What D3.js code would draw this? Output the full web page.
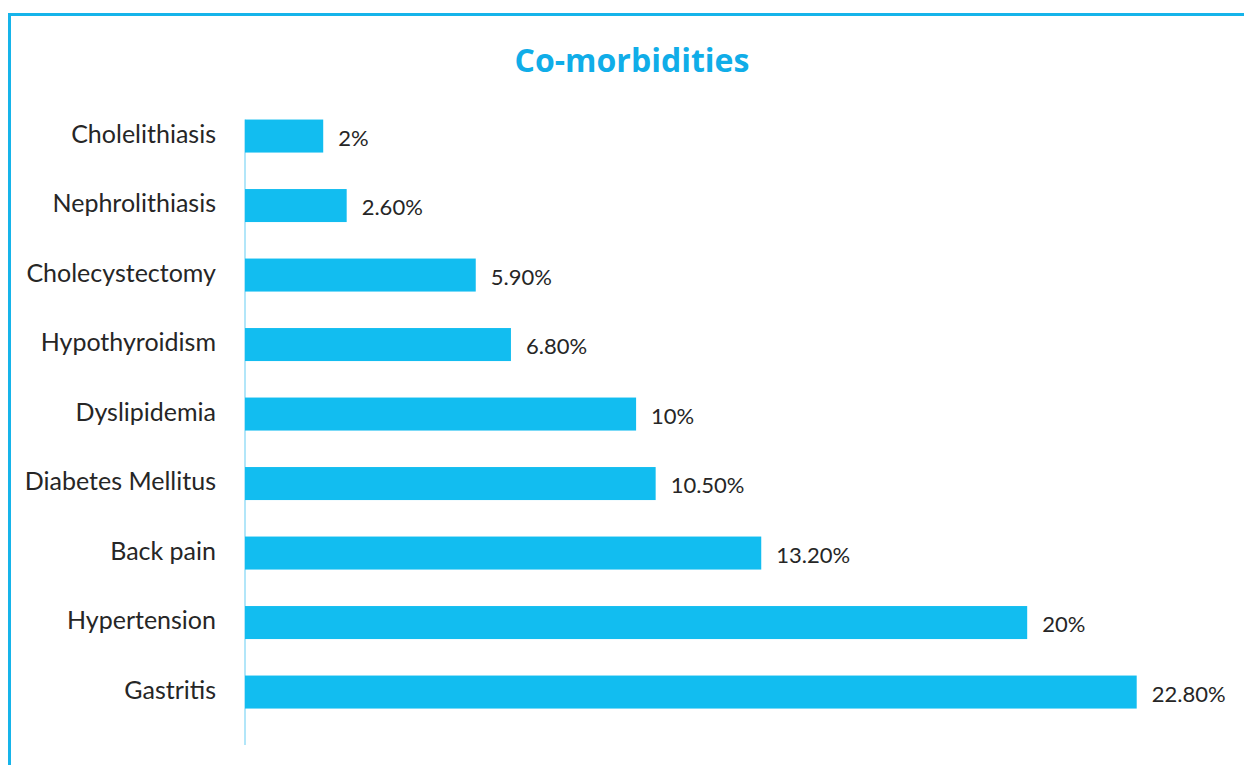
<!DOCTYPE html>
<html>
<head>
<meta charset="utf-8">
<script src="https://cdn.jsdelivr.net/npm/d3@7"></script>
<style>
  html, body { margin: 0; padding: 0; background: #fff; }
  svg { display: block; }
</style>
</head>
<body>
<script>
  // Chart values.
  var categories = ['Cholelithiasis', 'Nephrolithiasis', 'Cholecystectomy', 'Hypothyroidism',
    'Dyslipidemia', 'Diabetes Mellitus', 'Back pain', 'Hypertension', 'Gastritis'];
  var values = [2, 2.6, 5.9, 6.8, 10, 10.5, 13.2, 20, 22.8];
  var valueLabels = ['2%', '2.60%', '5.90%', '6.80%', '10%', '10.50%', '13.20%', '20%', '22.80%'];

  var width = 1244, height = 765;
  var blue = '#12bdf0', border = '#16b4ea';

  var svg = d3.select('body').append('svg')
    .attr('width', width)
    .attr('height', height);

  // Frame - only top and left edges show, the rest runs off the page.
  svg.append('rect')
    .attr('x', 9.5).attr('y', 14.5)
    .attr('width', 1260).attr('height', 800)
    .attr('fill', 'none')
    .attr('stroke', border)
    .attr('stroke-width', 3);

  svg.append('text')
    .attr('x', 632).attr('y', 72)
    .attr('text-anchor', 'middle')
    .attr('font-family', 'Open Sans, sans-serif')
    .attr('font-weight', 'bold')
    .attr('font-size', 32)
    .attr('fill', '#10ade8')
    .text('Co-morbidities');

  var x = d3.scaleLinear().domain([0, 22.8]).range([245, 1136.7]);
  var y = d3.scaleBand().domain(categories).range([101.3, 726.8]).paddingInner(0.525).paddingOuter(0.2625);

  // Category axis line
  svg.append('line')
    .attr('x1', x(0)).attr('x2', x(0))
    .attr('y1', y(categories[0])).attr('y2', 745)
    .attr('stroke', '#7fd6f5')
    .attr('stroke-width', 1.2);

  var rows = svg.selectAll('g.row')
    .data(categories)
    .enter().append('g')
    .attr('class', 'row');

  rows.append('rect')
    .attr('x', x(0))
    .attr('y', function(d) { return y(d); })
    .attr('width', function(d, i) { return x(values[i]) - x(0); })
    .attr('height', y.bandwidth())
    .attr('fill', blue);

  rows.append('text')
    .attr('x', 216)
    .attr('y', function(d) { return y(d) + y.bandwidth() / 2 - 2; })
    .attr('dy', '0.35em')
    .attr('text-anchor', 'end')
    .attr('font-family', 'Lato, sans-serif')
    .attr('font-size', 25)
    .attr('fill', '#262626')
    .text(function(d) { return d; });

  rows.append('text')
    .attr('x', function(d, i) { return x(values[i]) + 15; })
    .attr('y', function(d) { return y(d) + y.bandwidth() / 2 + 2; })
    .attr('dy', '0.35em')
    .attr('font-family', 'Lato, sans-serif')
    .attr('font-size', 22)
    .attr('fill', '#262626')
    .text(function(d, i) { return valueLabels[i]; });
</script>
</body>
</html>
